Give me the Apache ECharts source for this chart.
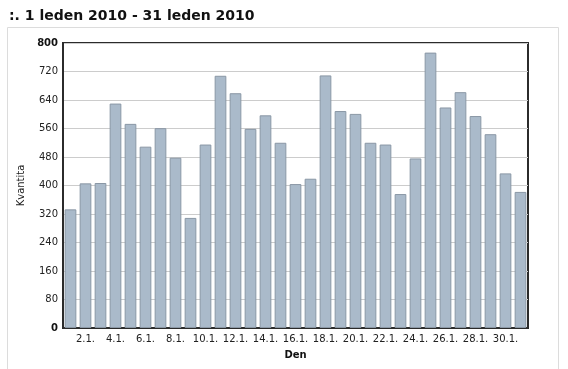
<!DOCTYPE html>
<html>
<head>
<meta charset="utf-8">
<script src="https://cdn.jsdelivr.net/npm/echarts@6/dist/echarts.min.js"></script>
<style>
html,body{margin:0;padding:0;background:#fff;}
#c{width:568px;height:369px;}
</style>
</head>
<body>
<div id="c"></div>
<script>
var titleText = ':. 1 leden 2010 - 31 leden 2010';
var categories = ['1.1.','2.1.','3.1.','4.1.','5.1.','6.1.','7.1.','8.1.','9.1.','10.1.','11.1.','12.1.','13.1.','14.1.','15.1.','16.1.','17.1.','18.1.','19.1.','20.1.','21.1.','22.1.','23.1.','24.1.','25.1.','26.1.','27.1.','28.1.','29.1.','30.1.','31.1.'];
var values = [333,406,407,630,573,509,561,478,309,515,708,659,559,597,520,404,419,709,609,601,520,515,376,476,773,619,662,595,544,434,382];
var yTicks = [0,80,160,240,320,400,480,560,640,720,800];
var yName = 'Kvantita';
var xName = 'Den';

var chart = echarts.init(document.getElementById('c'), null, {renderer:'canvas'});
var font = 'Verdana, "DejaVu Sans", sans-serif';
chart.setOption({
  animation:false,
  backgroundColor:'#fff',
  title:{
    text:titleText, left:4, top:4,
    textStyle:{fontFamily:font, fontSize:14, fontWeight:'bold', color:'#111'}
  },
  graphic:[{
    type:'rect', shape:{x:7.5,y:27.5,width:551,height:360},
    style:{fill:'#fff', stroke:'#dcdcdc', lineWidth:1}, z:-10
  }],
  grid:{left:63, right:40, top:43, bottom:41, containLabel:false,
        show:true, borderColor:'#2b2b2b', borderWidth:2},
  xAxis:{
    type:'category', data:categories,
    name:xName, nameLocation:'middle', nameGap:22,
    nameTextStyle:{fontFamily:font, fontSize:10, fontWeight:'bold', color:'#111'},
    axisLine:{show:true, lineStyle:{color:'#2b2b2b', width:2}},
    axisTick:{show:false},
    axisLabel:{fontFamily:font, fontSize:10, color:'#222', margin:6,
      interval:function(i){return i%2===1;}},
    splitLine:{show:false}
  },
  yAxis:{
    type:'value', min:0, max:800, interval:80,
    name:yName, nameLocation:'middle', nameGap:36,
    nameTextStyle:{fontFamily:font, fontSize:10, color:'#222'},
    axisLine:{show:true, lineStyle:{color:'#2b2b2b', width:2}},
    axisTick:{show:false},
    axisLabel:{fontFamily:font, fontSize:10, color:'#222', margin:5,
      formatter:function(v){ if(v===0||v===800) return '{b|'+v+'}'; return String(v); },
      rich:{b:{fontFamily:font, fontSize:10, fontWeight:'bold', color:'#111'}}
    },
    splitLine:{show:true, lineStyle:{color:'#cccccc', width:1}}
  },
  series:[{
    type:'bar', data:values, barCategoryGap:'22%',
    itemStyle:{color:'#aabaca', borderColor:'#8a97a5', borderWidth:1},
    emphasis:{disabled:true}
  }]
});
</script>
</body>
</html>
